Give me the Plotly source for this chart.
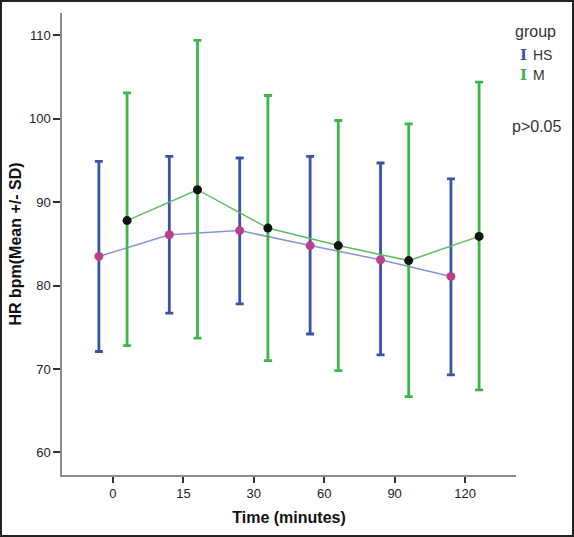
import plotly.graph_objects as go

# ---- data ----
time_labels = ["0", "15", "30", "60", "90", "120"]

hs_mean = [83.5, 86.1, 86.6, 84.8, 83.1, 81.1]
hs_upper = [94.9, 95.5, 95.3, 95.5, 94.7, 92.8]
hs_lower = [72.1, 76.7, 77.8, 74.2, 71.7, 69.3]

m_mean = [87.8, 91.5, 86.9, 84.8, 83.0, 85.9]
m_upper = [103.1, 109.4, 102.8, 99.8, 99.4, 104.4]
m_lower = [72.8, 73.7, 71.0, 69.8, 66.7, 67.5]

y_ticks = [60, 70, 80, 90, 100, 110]

# ---- layout constants ----
FIG_W, FIG_H = 574, 537
L, R, T, B = 62, 58, 13, 62
PW = FIG_W - L - R
PH = FIG_H - T - B
OFFSET = 0.2

def px_x(px):
    return (px - L) / PW

def px_y(py):
    return (FIG_H - B - py) / PH

idx = list(range(len(time_labels)))
hs_x = [i - OFFSET for i in idx]
m_x = [i + OFFSET for i in idx]

fig = go.Figure()

fig.add_trace(go.Scatter(
    x=hs_x, y=hs_mean, mode="lines+markers", name="HS",
    line=dict(color="#8893d6", width=1.5),
    marker=dict(color="#b8408c", size=9),
    error_y=dict(type="data", symmetric=False,
                 array=[u - m for u, m in zip(hs_upper, hs_mean)],
                 arrayminus=[m - l for m, l in zip(hs_mean, hs_lower)],
                 color="#3a52a8", thickness=2.8, width=4),
    showlegend=False,
))

fig.add_trace(go.Scatter(
    x=m_x, y=m_mean, mode="lines+markers", name="M",
    line=dict(color="#5cbd62", width=1.5),
    marker=dict(color="#111111", size=9),
    error_y=dict(type="data", symmetric=False,
                 array=[u - m for u, m in zip(m_upper, m_mean)],
                 arrayminus=[m - l for m, l in zip(m_mean, m_lower)],
                 color="#3db54a", thickness=2.8, width=4),
    showlegend=False,
))

font_family = "Liberation Sans, Arial, sans-serif"

fig.update_xaxes(
    range=[-0.724, len(time_labels) - 1 + 0.724],
    tickmode="array", tickvals=idx, ticktext=time_labels,
    showline=True, linecolor="#8c8c8c", linewidth=1.5,
    ticks="outside", ticklen=6, tickwidth=2, tickcolor="#333",
    showgrid=False, zeroline=False, automargin=False,
    tickfont=dict(family=font_family, size=13, color="#222"),
    title=dict(text="<b>Time (minutes)</b>",
               font=dict(family=font_family, size=16, color="#111"),
               standoff=11),
)
fig.update_yaxes(
    range=[57.29, 112.69],
    tickmode="array", tickvals=y_ticks,
    showline=True, linecolor="#8c8c8c", linewidth=1.5,
    ticks="outside", ticklen=7, tickwidth=2, tickcolor="#333",
    showgrid=False, zeroline=False, automargin=False,
    tickfont=dict(family=font_family, size=13, color="#222"),
    title=dict(text="<b>HR bpm(Mean +/- SD)</b>",
               font=dict(family=font_family, size=16, color="#111"),
               standoff=3),
)

def note(text, px, py, size, color, family=font_family, xanchor="center"):
    return dict(text=text, x=px_x(px), y=px_y(py), xref="paper", yref="paper",
                xanchor=xanchor, yanchor="middle", showarrow=False,
                font=dict(family=family, size=size, color=color))

annotations = [
    note("group", 535, 31, 16, "#333"),
    note("<b>I</b>", 523, 55, 15, "#3a52a8", family="DejaVu Serif"),
    note("HS", 531, 55, 14, "#333", xanchor="left"),
    note("<b>I</b>", 523, 75, 15, "#3db54a", family="DejaVu Serif"),
    note("M", 531, 75, 14, "#333", xanchor="left"),
    note("p>0.05", 536, 126, 16, "#333"),
]

shapes = [
    dict(type="rect", xref="paper", yref="paper",
         x0=px_x(1), x1=px_x(573), y0=px_y(536), y1=px_y(1),
         line=dict(color="#222", width=2), fillcolor="rgba(0,0,0,0)", layer="above"),
]

fig.update_layout(
    width=FIG_W, height=FIG_H,
    margin=dict(l=L, r=R, t=T, b=B, pad=0, autoexpand=False),
    paper_bgcolor="white", plot_bgcolor="white",
    annotations=annotations, shapes=shapes,
    font=dict(family=font_family),
)

fig.write_html("out.html",
               config={"displayModeBar": False},
               post_script="document.body.style.margin='0';document.body.style.overflow='hidden';")
